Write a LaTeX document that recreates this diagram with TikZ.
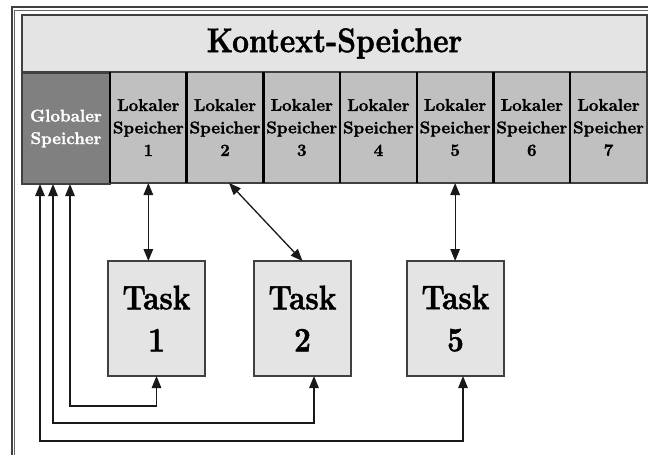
\documentclass[tikz,border=0pt]{standalone}
\usepackage{fontspec}
\setmainfont{Latin Modern Roman}[BoldFeatures={FakeBold=1.6}]
\usetikzlibrary{arrows.meta}
\definecolor{hdrfill}{HTML}{E4E4E4}
\definecolor{cellfill}{HTML}{C0C0C0}
\definecolor{globfill}{HTML}{808080}
\definecolor{rim}{HTML}{404040}
% slightly condensed bold lettering
\newcommand{\squeeze}[1]{\scalebox{0.88}[1]{#1}}
\begin{document}
\begin{tikzpicture}[x=1pt,y=-1pt,
  box/.style={rectangle, inner sep=0pt, outer sep=0pt, draw=rim, line width=1.2pt},
  header/.style={box, fill=hdrfill, minimum width=625pt, minimum height=57pt,
    font=\fontsize{34}{36}\selectfont\bfseries},
  cell/.style={box, fill=cellfill, minimum width=76.7pt, minimum height=111pt,
    align=center, font=\fontsize{17}{22.5}\selectfont\bfseries},
  glob/.style={cell, fill=globfill, minimum width=88pt, text=white},
  task/.style={box, fill=hdrfill, minimum width=97pt, minimum height=115pt,
    align=center, font=\fontsize{34}{42}\selectfont\bfseries},
  sep/.style={line width=2.5pt, black},
  tip/.tip={Triangle[width=9.5pt,length=12pt]},
  link/.style={line width=1.3pt, draw=black!90, line join=miter, tip-tip},
  frameline/.style={draw=rim, line join=miter}]
\useasboundingbox (0,0) rectangle (648,455);
\fill[white] (0,0) rectangle (648,455);

% outer double frame (left and top)
\draw[frameline, line width=2pt] (11.5,455) -- (11.5,7) -- (648,7);
\draw[frameline, line width=1.2pt, draw=rim!80] (14.8,455) -- (14.8,10.8) -- (648,10.8);

% context memory
\node[header] (hdr) at (334.5,43.5) {\squeeze{Kontext-Speicher}};
\node[glob] (g) at (66,128.5) {Globaler\\Speicher};
\foreach \i in {1,...,7}{
  \node[cell] (c\i) at ({110+76.7*(\i-0.5)},127.5) {Lokaler\\Speicher\\\i};
}
\foreach \i in {1,...,7}{
  \draw[sep] (c\i.north west) -- (c\i.south west);
}

% tasks
\node[task] (t1) at (156.5,318.5) {\squeeze{Task}\\\squeeze{1}};
\node[task] (t2) at (302.5,318.5) {\squeeze{Task}\\\squeeze{2}};
\node[task] (t5) at (455.5,318.5) {\squeeze{Task}\\\squeeze{5}};

% local memory links
\draw[link] (c1.south) -- (c1.south |- t1.north);
\draw[link] ([xshift=4pt]c2.south) -- (t2.north);
\draw[link] (c5.south) -- (c5.south |- t5.north);

% global memory links
\draw[link] ([xshift=4pt]g.south) |- ([yshift=-30pt]t1.south) -- (t1.south);
\draw[link] ([xshift=-13pt]g.south) |- ([xshift=11.5pt,yshift=-47pt]t2.south) -- ([xshift=11.5pt]t2.south);
\draw[link] ([xshift=-26pt]g.south) |- ([xshift=7.5pt,yshift=-65pt]t5.south) -- ([xshift=7.5pt]t5.south);
\end{tikzpicture}
\end{document}
